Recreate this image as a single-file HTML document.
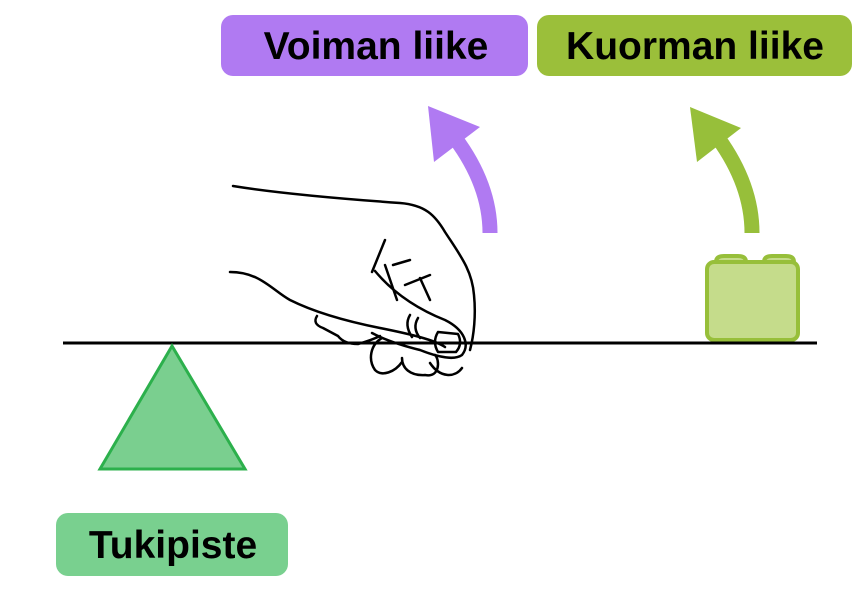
<!DOCTYPE html>
<html><head><style>
body{margin:0;background:#fff;}
svg{display:block}
text{font-family:"Liberation Sans",sans-serif;font-weight:bold;font-size:39px;fill:#000}
</style></head><body>
<svg width="864" height="604" viewBox="0 0 864 604" xmlns="http://www.w3.org/2000/svg">
<rect x="221" y="15" width="307" height="61" rx="12" fill="#b07af2"/>
<text x="376" y="59" text-anchor="middle">Voiman liike</text>
<rect x="537" y="15" width="315" height="61" rx="12" fill="#9bbf3a"/>
<text x="695" y="59" text-anchor="middle">Kuorman liike</text>
<rect x="56" y="513" width="232" height="63" rx="12" fill="#79d08f"/>
<text x="173" y="558" text-anchor="middle">Tukipiste</text>

<path d="M490 233 Q490 185 455 138" stroke="#b07af2" stroke-width="15" fill="none"/>
<polygon points="428,106 480,127 434,162" fill="#b07af2"/>
<path d="M752 233 Q752 185 718 138" stroke="#97bf3a" stroke-width="15" fill="none"/>
<polygon points="690,107 741,128 697,162" fill="#97bf3a"/>

<path d="M716 262 q0-6 8-6 h14 q8 0 8 6 M764 262 q0-6 8-6 h14 q8 0 8 6" fill="#c5dc8b" stroke="#97bf3a" stroke-width="4"/>
<rect x="707" y="262" width="91" height="78" rx="7" fill="#c5dc8b" stroke="#97bf3a" stroke-width="4"/>

<line x1="63" y1="343" x2="817" y2="343" stroke="#000" stroke-width="3"/>
<polygon points="172,346 100,469 245,469" fill="#7acf8f" stroke="#2cb04c" stroke-width="3"/>

<g fill="none" stroke="#000" stroke-width="2.5" stroke-linecap="round" stroke-linejoin="round">
<path d="M233 186 C270 192 330 198 400 203 C425 205 435 215 445 232 C460 255 472 270 474 295 C476 315 474 335 470 350"/>
<path d="M230 272 C260 272 272 290 290 300 C310 310 340 320 380 328 C410 334 435 340 445 347"/>
<path d="M375 271 C395 295 420 310 445 320 C465 330 470 345 462 355 C455 360 440 358 420 350 C400 345 385 340 372 333"/>
<path d="M438 332 q-6 10 0 20 h18 q7-8 2-18 z"/>
<path d="M317 316 q-5 8 6 12 l15 8 q6 8 20 8 q14-4 22-8"/>
<path d="M382 338 C370 345 368 360 375 370 C382 377 395 372 402 362"/>
<path d="M402 358 C402 368 410 376 425 375 C440 378 440 360 435 355"/>
<path d="M430 363 C440 378 455 378 462 368"/>
<path d="M385 240 L372 272 M393 265 L410 260 M405 285 L430 275 M420 278 L430 300 M397 300 L385 265"/>
<path d="M410 315 q-6 10 2 22 M418 318 q-6 10 2 20"/>
</g>
</svg>
</body></html>
